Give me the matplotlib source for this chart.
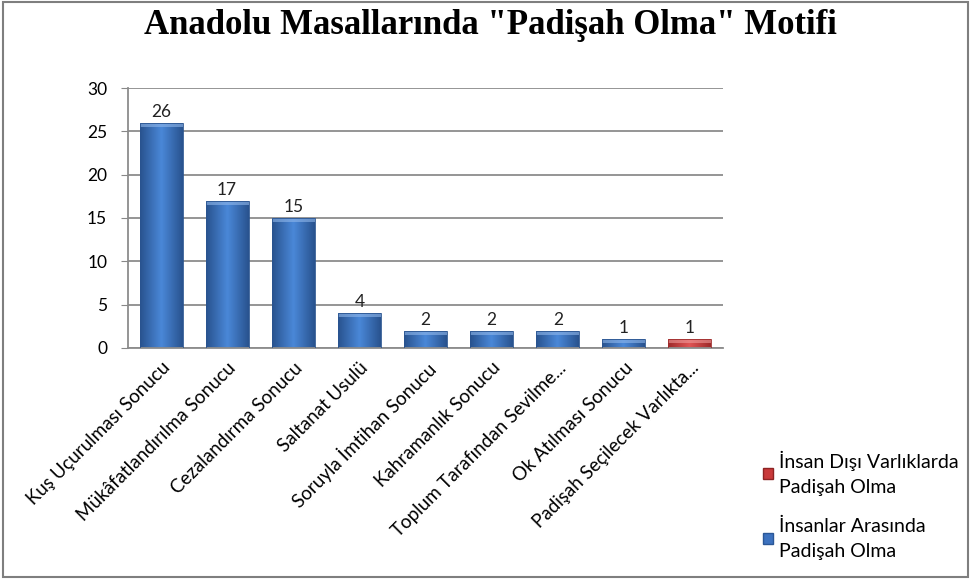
import numpy as np
import matplotlib
matplotlib.use("Agg")
import matplotlib.pyplot as plt
from matplotlib.colors import LinearSegmentedColormap
from matplotlib.patches import Patch, Rectangle

# ── data ─────────────────────────────────────────────────────────────
categories = [
    "Kuş Uçurulması Sonucu",
    "Mükâfatlandırılma Sonucu",
    "Cezalandırma Sonucu",
    "Saltanat Usulü",
    "Soruyla İmtihan Sonucu",
    "Kahramanlık Sonucu",
    "Toplum Tarafından Sevilme...",
    "Ok Atılması Sonucu",
    "Padişah Seçilecek Varlıkta...",
]
insanlar = [26, 17, 15, 4, 2, 2, 2, 1, 0]
insan_disi = [0, 0, 0, 0, 0, 0, 0, 0, 1]
series_names = ["İnsanlar Arasında\nPadişah Olma", "İnsan Dışı Varlıklarda\nPadişah Olma"]

BLUE = ["#29538f", "#4a88d8", "#29538f"]
RED = ["#9e2a2a", "#e05555", "#9e2a2a"]

plt.rcParams["font.family"] = ["Lato", "DejaVu Sans"]

fig = plt.figure(figsize=(9.71, 5.79), dpi=100)
ax = fig.add_axes([0.1318, 0.399, 0.6128, 0.449])

x = np.arange(len(categories))
width = 0.65


def gradient_bars(values, colors, cap):
    cmap = LinearSegmentedColormap.from_list("g", colors)
    grad = np.linspace(0, 1, 64).reshape(1, -1)
    for xi, v in zip(x, values):
        if v <= 0:
            continue
        x0 = xi - width / 2
        rect = Rectangle((x0, 0), width, v, facecolor="none",
                         edgecolor=colors[0], lw=0.6, zorder=3)
        ax.add_patch(rect)
        im = ax.imshow(grad, cmap=cmap, aspect="auto",
                       extent=(x0, x0 + width, 0, v), zorder=2)
        im.set_clip_path(rect)
        # bevel on top
        ax.add_patch(Rectangle((x0, v - 0.45), width, 0.45, facecolor=cap,
                               edgecolor="none", alpha=0.6, zorder=2.5))
        ax.text(xi, v + 0.35, str(v), ha="center", va="bottom",
                fontsize=12.5, color="#222222", zorder=4)


gradient_bars(insanlar, BLUE, "#8fb6ea")
gradient_bars(insan_disi, RED, "#f09a9a")

ax.set_xlim(-0.5, len(categories) - 0.5)
ax.set_ylim(0, 30)
ax.set_yticks(np.arange(0, 31, 5))
ax.set_xticks(x)
ax.set_xticklabels(categories, rotation=45, ha="right",
                   rotation_mode="anchor", fontsize=13.5)
ax.tick_params(axis="x", length=0, pad=8)
ax.tick_params(axis="y", length=5, color="#888888", labelsize=12.5, pad=10)
ax.yaxis.grid(True, color="#8c8c8c", lw=1.3)
ax.set_axisbelow(True)
for s in ["top", "right"]:
    ax.spines[s].set_visible(False)
for s in ["left", "bottom"]:
    ax.spines[s].set_color("#8c8c8c")
    ax.spines[s].set_linewidth(1.3)

handles = [
    Patch(facecolor="#c9393a", edgecolor="#8e2323", label=series_names[1]),
    Patch(facecolor="#3d72bf", edgecolor="#2b5797", label=series_names[0]),
]
leg = fig.legend(handles=handles, loc="lower left", bbox_to_anchor=(0.768, 0.003),
                 frameon=False, fontsize=14, handlelength=0.5, handleheight=0.5,
                 handletextpad=0.3, labelspacing=1.15)
for t in leg.get_texts():
    t.set_linespacing(1.55)

fig.suptitle('Anadolu Masallarında "Padişah Olma" Motifi',
             family="Liberation Serif", fontweight="bold", fontsize=25,
             x=0.505, y=0.985)

fig.add_artist(Rectangle((0.003, 0.004), 0.994, 0.992, transform=fig.transFigure,
                         facecolor="none", edgecolor="#7f7f7f", lw=1.5))

fig.savefig("out.png", dpi=100)
